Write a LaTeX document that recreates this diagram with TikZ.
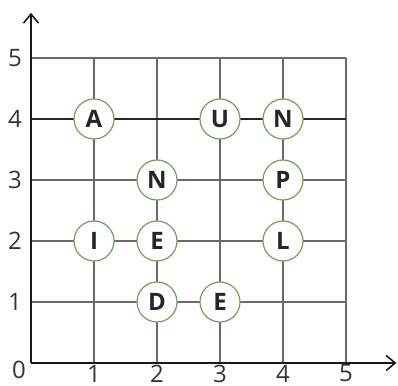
\documentclass[tikz,border=0pt]{standalone}
\usepackage{fontspec}
\setmainfont{Open Sans}
\usetikzlibrary{arrows.meta}
\definecolor{ringgreen}{HTML}{6FA060}
\definecolor{gridgray}{HTML}{6A6A6A}
\tikzset{
  gridline/.style={draw=gridgray, line width=1.1pt},
  mainline/.style={draw=black!85, line width=2pt},
  axisline/.style={draw=black!90, line width=2pt, -{Straight Barb[length=9pt,width=15pt,line width=1.6pt]}},
  letter/.style={circle, draw=ringgreen, line width=1.2pt, fill=white, minimum size=40pt, inner sep=0pt, font=\fontsize{24}{24}\selectfont\bfseries, text=black!85},
  axislabel/.style={font=\fontsize{24}{24}\selectfont, text=black!80, inner sep=0pt}
}
\begin{document}
\begin{tikzpicture}[x=63pt,y=61pt]
\useasboundingbox (-31pt,-22pt) rectangle (367pt,363pt);
% grid
\foreach \i in {1,...,5} {
  \draw[gridline] (\i,0) -- (\i,5);
  \draw[gridline] (0,\i) -- (5,\i);
}
\draw[mainline] (0,4) -- (5,4);
% axes
\coordinate (o) at (0,0);
\coordinate (ytip) at (0,5.74);
\coordinate (xtip) at (5.8,0);
\draw[axisline] (o) -- (ytip);
\draw[axisline] (o) -- (xtip);
% axis labels
\foreach \j in {1,...,5} \node[axislabel] (y\j) at (-16pt,\j) {\j};
\foreach \i in {1,...,5} \node[axislabel] (x\i) at (\i,-10.5pt) {\i};
\node[axislabel] (x0) at (-12pt,-7pt) {0};
% letters
\node[letter] (A) at (1,4) {A};
\node[letter] (U) at (3,4) {U};
\node[letter] (N1) at (4,4) {N};
\node[letter] (N2) at (2,3) {N};
\node[letter] (P) at (4,3) {P};
\node[letter] (I) at (1,2) {I};
\node[letter] (E1) at (2,2) {E};
\node[letter] (L) at (4,2) {L};
\node[letter] (D) at (2,1) {D};
\node[letter] (E2) at (3,1) {E};
\end{tikzpicture}
\end{document}
